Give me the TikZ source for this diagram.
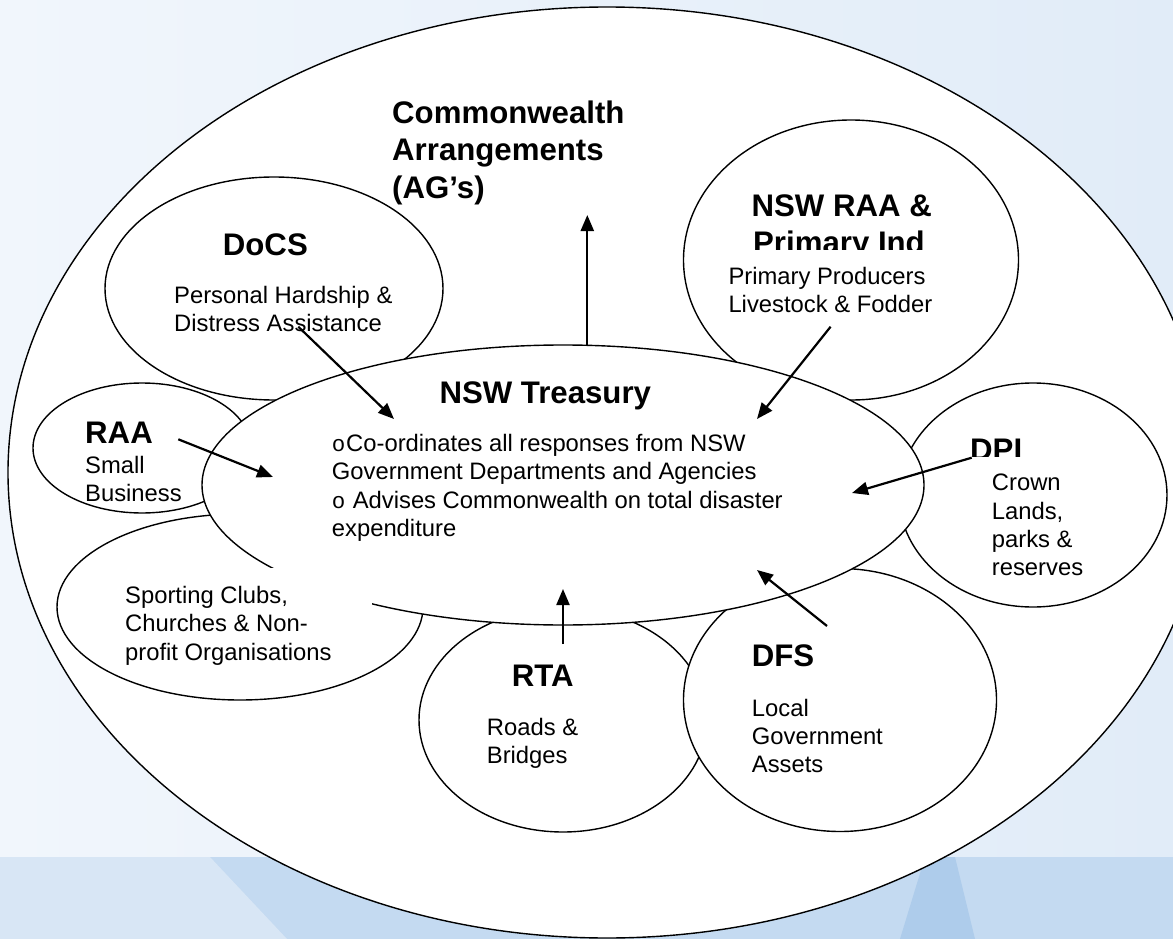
\documentclass[tikz,border=0pt]{standalone}
\usepackage{fontspec}
\setmainfont{Liberation Sans}
\newfontfamily\bulfont{Liberation Mono}
\usetikzlibrary{arrows.meta,shapes.geometric}
\definecolor{bgA}{HTML}{F1F6FC}
\definecolor{bgB}{HTML}{E1ECF8}
\definecolor{bandC}{HTML}{C4DAF1}
\definecolor{bandL}{HTML}{D8E6F5}
\definecolor{streak}{HTML}{AECCEB}
\newcommand{\obul}{{\bulfont\fontsize{22.5}{22.5}\selectfont o}\kern0.8pt}
\begin{document}
\begin{tikzpicture}[x=1pt,y=-1pt,
  bub/.style={ellipse, draw=black, fill=white, line width=1.4pt, inner sep=0pt, outer sep=0pt},
  arr/.style={-{Triangle[length=16pt,width=13pt]}, line width=2.2pt},
  txt/.style={inner sep=0pt, anchor=base west, font=\fontsize{23.8}{28.4}\selectfont},
  ttl/.style={inner sep=0pt, anchor=base west, font=\fontsize{31.2}{37.4}\selectfont\bfseries},
  mask/.style={fill=white, draw=none}]
\useasboundingbox (0,0) rectangle (1173,939);
% background
\shade[left color=bgA, right color=bgB] (0,0) rectangle (1173,939);
\fill[bandC] (0,857) rectangle (1173,939);
\fill[bandL] (0,857) -- (210,857) -- (287,939) -- (0,939) -- cycle;
\fill[streak] (900,939) -- (975,939) -- (955,857) -- (925,857) -- cycle;
% outer ellipse
\node[bub, minimum width=1198pt, minimum height=931pt] (outer) at (607,472.5) {};
% satellite ellipses
\node[bub, minimum width=338pt, minimum height=223pt] (docs) at (274,288.5) {};
\node[bub, minimum width=335pt, minimum height=280pt] (nswraa) at (851,260) {};
\node[bub, minimum width=218pt, minimum height=130pt] (raa) at (142,448) {};
\node[bub, minimum width=366pt, minimum height=186pt] (sport) at (240,607) {};
\node[bub, minimum width=268pt, minimum height=224pt] (dpi) at (1033,495) {};
\node[bub, minimum width=288pt, minimum height=224pt] (rta) at (563,720) {};
\node[bub, minimum width=313pt, minimum height=263pt] (dfs) at (840,700) {};
% central ellipse
\node[bub, minimum width=722pt, minimum height=280pt] (tr) at (563,485) {};
% texts
\node[ttl] (cwT) at (392,123.3) {\vtop{\hbox{Commonwealth}\hbox{Arrangements}\hbox{(AG’s)}}};
\node[ttl] (docsT) at (222.7,255) {DoCS};
\node[txt] (docsB) at (174,303.3) {\vtop{\hbox{Personal Hardship \&}\hbox{Distress Assistance}}};
\node[ttl, anchor=base] (nswT1) at (841.7,216) {NSW RAA \&};
\node[ttl, anchor=base] (nswT2) at (839,253.4) {Primary Ind};
\path[mask] (712,250) rectangle (990,326);
\node[txt] (nswB) at (728.3,284) {\vtop{\hbox{Primary Producers}\hbox{Livestock \& Fodder}}};
\node[ttl] (trT) at (439.3,403.3) {NSW Treasury};
\node[txt] (trB) at (331.7,451.5) {\vtop{\hbox{\obul Co-ordinates all responses from NSW}\hbox{Government Departments and Agencies}\hbox{\obul\ Advises Commonwealth on total disaster}\hbox{expenditure}}};
\node[ttl] (raaT) at (85,443.3) {RAA};
\node[txt] (raaB) at (85,473.3) {\vtop{\hbox{Small}\hbox{Business}}};
\node[ttl] (dpiT) at (970,460.6) {DPI};
\path[mask] (965,456.7) rectangle (1098,585);
\node[txt] (dpiB) at (991.7,490.7) {\vtop{\hbox{Crown}\hbox{Lands,}\hbox{parks \&}\hbox{reserves}}};
\path[mask] (120,568) rectangle (372,667);
\node[txt] (spB) at (125,603.3) {\vtop{\hbox{Sporting Clubs,}\hbox{Churches \& Non-}\hbox{profit Organisations}}};
\node[ttl] (rtaT) at (511.7,686) {RTA};
\node[txt] (rtaB) at (486.7,735) {\vtop{\hbox{Roads \&}\hbox{Bridges}}};
\node[ttl] (dfsT) at (751.7,666.7) {DFS};
\node[txt] (dfsB) at (751.7,716) {\vtop{\hbox{Local}\hbox{Government}\hbox{Assets}}};
% arrow end points
\coordinate (cwFrom) at (587.3,345);   \coordinate (cwTo) at (587.3,215);
\coordinate (docsFrom) at (298.3,326.7); \coordinate (docsTo) at (394,419);
\coordinate (nswFrom) at (830.6,326.7);  \coordinate (nswTo) at (757,419);
\coordinate (raaFrom) at (178.3,439.3);  \coordinate (raaTo) at (273,477);
\coordinate (dpiFrom) at (971.7,457.7);  \coordinate (dpiTo) at (852,493);
\coordinate (rtaFrom) at (563,644);      \coordinate (rtaTo) at (563,589);
\coordinate (dfsFrom) at (827,626);      \coordinate (dfsTo) at (757,570);
% arrows
\draw[arr] (cwFrom) -- (cwTo);
\draw[arr] (docsFrom) -- (docsTo);
\draw[arr] (nswFrom) -- (nswTo);
\draw[arr] (raaFrom) -- (raaTo);
\draw[arr] (dpiFrom) -- (dpiTo);
\draw[arr] (rtaFrom) -- (rtaTo);
\draw[arr] (dfsFrom) -- (dfsTo);
\end{tikzpicture}
\end{document}
